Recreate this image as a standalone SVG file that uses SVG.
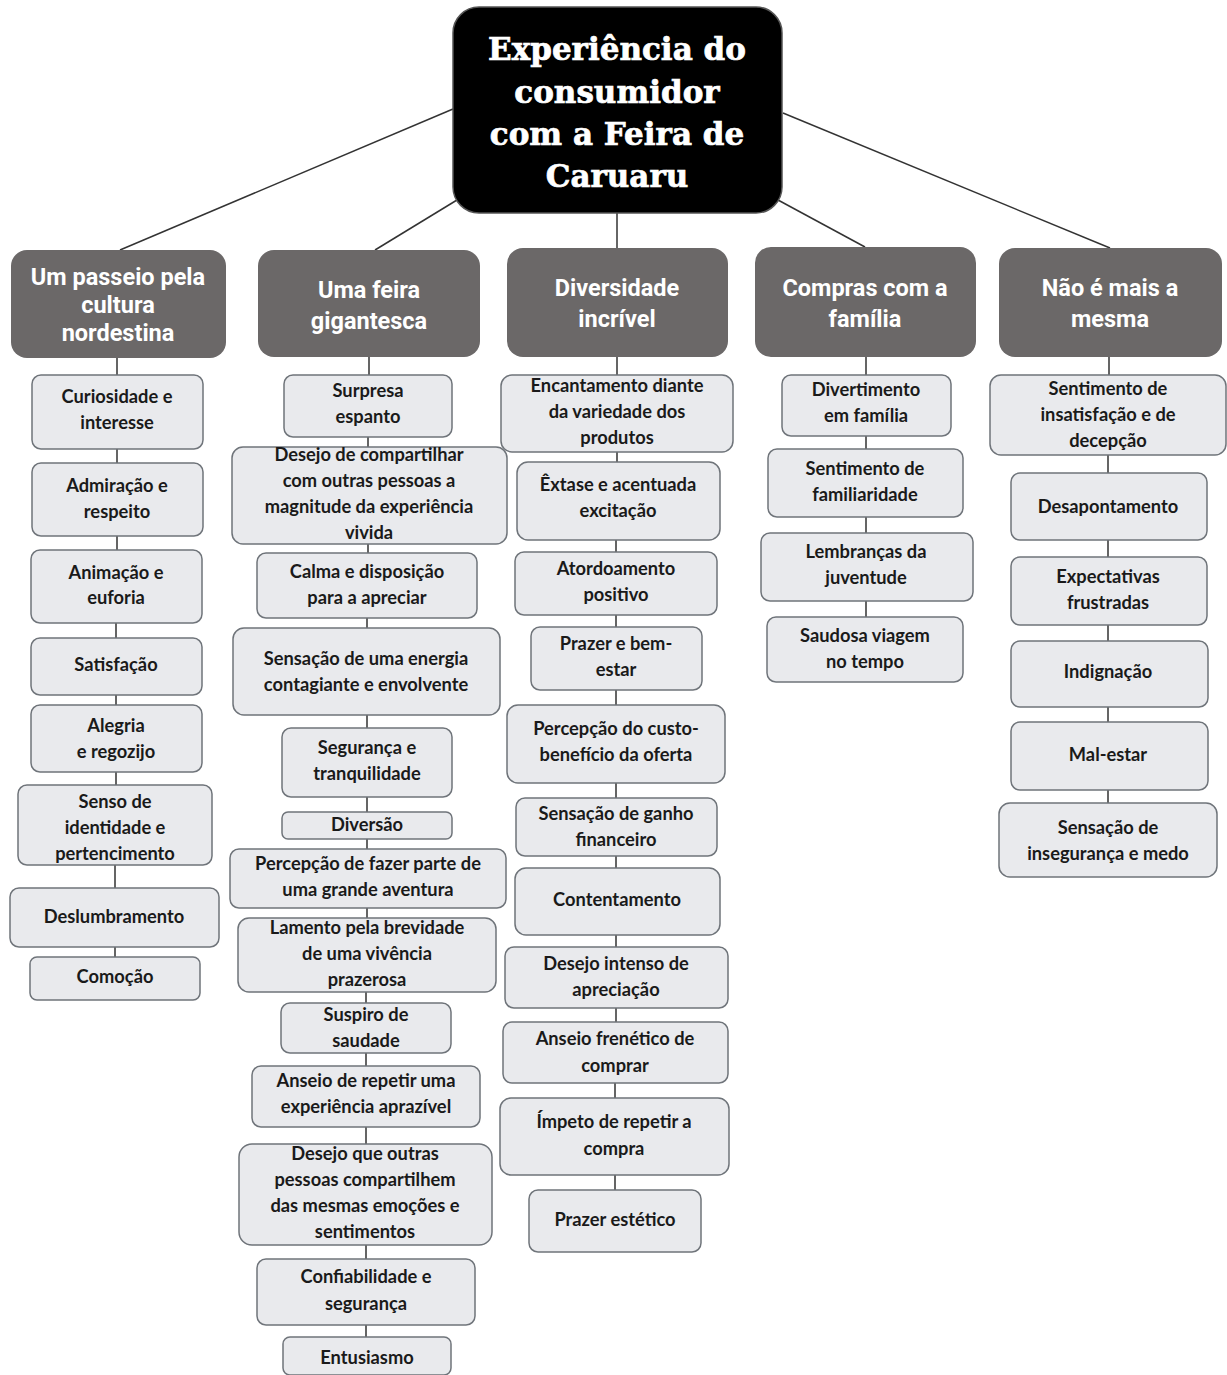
<svg xmlns="http://www.w3.org/2000/svg" width="1227" height="1375" viewBox="0 0 1227 1375">
<style>
.bg{fill:#ffffff}
.root rect{fill:#000000;stroke:#555555;stroke-width:1.5}
.root text{font-family:"DejaVu Serif",serif;font-weight:bold;font-size:31px;fill:#ffffff;stroke:#ffffff;stroke-width:0.7;text-anchor:middle}
.cat rect{fill:#6b6868;stroke:none}
.cat text{font-family:Roboto,"Liberation Sans",sans-serif;font-weight:bold;font-size:23.5px;fill:#ffffff;text-anchor:middle}
.leaf rect{fill:#e9eaed;stroke:#6f747a;stroke-width:1.5}
.leaf text{font-family:Lato,"Liberation Sans",sans-serif;font-weight:bold;font-size:18.3px;fill:#1a1a1a;text-anchor:middle}
.conn path{fill:none;stroke:#333333;stroke-width:1.5}
</style>
<rect class="bg" x="0" y="0" width="1227" height="1375"/>
<g id="connectors" class="conn">
<path d="M453,109 L120,250"/>
<path d="M457,200 L375,250"/>
<path d="M617,213 L617,248"/>
<path d="M778,200 L865,247"/>
<path d="M783,113 L1110,248"/>
<path d="M117,358 V375 M117,449 V463 M117,536 V550 M116,623 V638 M116,695 V705 M116,772 V785 M115,865 V888 M115,947 V957"/>
<path d="M369,357 V375 M368,437 V447 M368,544 V553 M367,618 V628 M367,715 V728 M367,797 V812 M367,839 V849 M367,908 V918 M366,992 V1003 M366,1053 V1066 M366,1127 V1144 M366,1245 V1259 M366,1325 V1337"/>
<path d="M617,357 V375 M617,452 V462 M616,540 V552 M616,615 V627 M616,690 V705 M616,783 V798 M616,856 V868 M616,935 V947 M616,1008 V1022 M615,1083 V1098 M615,1175 V1190"/>
<path d="M866,357 V375 M866,436 V449 M866,517 V533 M866,601 V617"/>
<path d="M1109,357 V375 M1108,455 V473 M1108,540 V557 M1108,625 V641 M1108,707 V722 M1108,790 V803"/>
</g>
<g id="root" class="root">
<rect x="453" y="7" width="329" height="206" rx="26"/>
<text x="617" y="60">Experiência do</text>
<text x="617" y="103">consumidor</text>
<text x="617" y="145">com a Feira de</text>
<text x="617" y="187">Caruaru</text>
</g>
<g id="cat1" class="cat"><rect x="11" y="250" width="215" height="108" rx="16"/><text x="118" y="285">Um passeio pela</text><text x="118" y="313">cultura</text><text x="118" y="341">nordestina</text></g>
<g id="cat2" class="cat"><rect x="258" y="250" width="222" height="107" rx="16"/><text x="369" y="298">Uma feira</text><text x="369" y="329">gigantesca</text></g>
<g id="cat3" class="cat"><rect x="507" y="248" width="221" height="109" rx="16"/><text x="617" y="296">Diversidade</text><text x="617" y="327">incrível</text></g>
<g id="cat4" class="cat"><rect x="755" y="247" width="221" height="110" rx="16"/><text x="865" y="296">Compras com a</text><text x="865" y="327">família</text></g>
<g id="cat5" class="cat"><rect x="999" y="248" width="223" height="109" rx="16"/><text x="1110" y="296">Não é mais a</text><text x="1110" y="327">mesma</text></g>

<g id="a1" class="leaf"><rect x="32" y="375" width="171" height="74" rx="9"/><text x="117" y="403">Curiosidade e</text><text x="117" y="429">interesse</text></g>
<g id="a2" class="leaf"><rect x="32" y="463" width="171" height="73" rx="9"/><text x="117" y="492">Admiração e</text><text x="117" y="518">respeito</text></g>
<g id="a3" class="leaf"><rect x="31" y="550" width="171" height="73" rx="9"/><text x="116" y="579">Animação e</text><text x="116" y="604">euforia</text></g>
<g id="a4" class="leaf"><rect x="31" y="638" width="171" height="57" rx="9"/><text x="116" y="671">Satisfação</text></g>
<g id="a5" class="leaf"><rect x="31" y="705" width="171" height="67" rx="9"/><text x="116" y="732">Alegria</text><text x="116" y="758">e regozijo</text></g>
<g id="a6" class="leaf"><rect x="18" y="785" width="194" height="80" rx="9"/><text x="115" y="808">Senso de</text><text x="115" y="834">identidade e</text><text x="115" y="860">pertencimento</text></g>
<g id="a7" class="leaf"><rect x="10" y="888" width="209" height="59" rx="9"/><text x="114" y="923">Deslumbramento</text></g>
<g id="a8" class="leaf"><rect x="30" y="957" width="170" height="43" rx="7"/><text x="115" y="983">Comoção</text></g>

<g id="b1" class="leaf"><rect x="284" y="375" width="168" height="62" rx="9"/><text x="368" y="397">Surpresa</text><text x="368" y="423">espanto</text></g>
<g id="b2" class="leaf"><rect x="232" y="447" width="275" height="97" rx="11"/><text x="369" y="461">Desejo de compartilhar</text><text x="369" y="487">com outras pessoas a</text><text x="369" y="513">magnitude da experiência</text><text x="369" y="539">vivida</text></g>
<g id="b3" class="leaf"><rect x="257" y="553" width="220" height="65" rx="9"/><text x="367" y="578">Calma e disposição</text><text x="367" y="604">para a apreciar</text></g>
<g id="b4" class="leaf"><rect x="233" y="628" width="267" height="87" rx="11"/><text x="366" y="665">Sensação de uma energia</text><text x="366" y="691">contagiante e envolvente</text></g>
<g id="b5" class="leaf"><rect x="282" y="728" width="170" height="69" rx="9"/><text x="367" y="754">Segurança e</text><text x="367" y="780">tranquilidade</text></g>
<g id="b6" class="leaf"><rect x="282" y="812" width="170" height="27" rx="6"/><text x="367" y="831">Diversão</text></g>
<g id="b7" class="leaf"><rect x="230" y="849" width="276" height="59" rx="9"/><text x="368" y="870">Percepção de fazer parte de</text><text x="368" y="896">uma grande aventura</text></g>
<g id="b8" class="leaf"><rect x="238" y="918" width="258" height="74" rx="11"/><text x="367" y="934">Lamento pela brevidade</text><text x="367" y="960">de uma vivência</text><text x="367" y="986">prazerosa</text></g>
<g id="b9" class="leaf"><rect x="281" y="1003" width="170" height="50" rx="9"/><text x="366" y="1021">Suspiro de</text><text x="366" y="1047">saudade</text></g>
<g id="b10" class="leaf"><rect x="252" y="1066" width="228" height="61" rx="9"/><text x="366" y="1087">Anseio de repetir uma</text><text x="366" y="1113">experiência aprazível</text></g>
<g id="b11" class="leaf"><rect x="239" y="1144" width="253" height="101" rx="13"/><text x="365" y="1160">Desejo que outras</text><text x="365" y="1186">pessoas compartilhem</text><text x="365" y="1212">das mesmas emoções e</text><text x="365" y="1238">sentimentos</text></g>
<g id="b12" class="leaf"><rect x="257" y="1259" width="218" height="66" rx="9"/><text x="366" y="1283">Confiabilidade e</text><text x="366" y="1310">segurança</text></g>
<g id="b13" class="leaf"><rect x="283" y="1337" width="168" height="38" rx="7"/><text x="367" y="1364">Entusiasmo</text></g>

<g id="c1" class="leaf"><rect x="501" y="375" width="232" height="77" rx="11"/><text x="617" y="392">Encantamento diante</text><text x="617" y="418">da variedade dos</text><text x="617" y="444">produtos</text></g>
<g id="c2" class="leaf"><rect x="517" y="462" width="203" height="78" rx="11"/><text x="618" y="491">Êxtase e acentuada</text><text x="618" y="517">excitação</text></g>
<g id="c3" class="leaf"><rect x="515" y="552" width="202" height="63" rx="9"/><text x="616" y="575">Atordoamento</text><text x="616" y="601">positivo</text></g>
<g id="c4" class="leaf"><rect x="531" y="627" width="171" height="63" rx="9"/><text x="616" y="650">Prazer e bem-</text><text x="616" y="676">estar</text></g>
<g id="c5" class="leaf"><rect x="507" y="705" width="218" height="78" rx="11"/><text x="616" y="735">Percepção do custo-</text><text x="616" y="761">benefício da oferta</text></g>
<g id="c6" class="leaf"><rect x="516" y="798" width="201" height="58" rx="9"/><text x="616" y="820">Sensação de ganho</text><text x="616" y="846">financeiro</text></g>
<g id="c7" class="leaf"><rect x="515" y="868" width="205" height="67" rx="11"/><text x="617" y="906">Contentamento</text></g>
<g id="c8" class="leaf"><rect x="505" y="947" width="223" height="61" rx="9"/><text x="616" y="970">Desejo intenso de</text><text x="616" y="996">apreciação</text></g>
<g id="c9" class="leaf"><rect x="503" y="1022" width="225" height="61" rx="9"/><text x="615" y="1045">Anseio frenético de</text><text x="615" y="1072">comprar</text></g>
<g id="c10" class="leaf"><rect x="500" y="1098" width="229" height="77" rx="11"/><text x="614" y="1128">Ímpeto de repetir a</text><text x="614" y="1155">compra</text></g>
<g id="c11" class="leaf"><rect x="529" y="1190" width="172" height="62" rx="9"/><text x="615" y="1226">Prazer estético</text></g>

<g id="d1" class="leaf"><rect x="782" y="375" width="169" height="61" rx="9"/><text x="866" y="396">Divertimento</text><text x="866" y="422">em família</text></g>
<g id="d2" class="leaf"><rect x="768" y="449" width="195" height="68" rx="9"/><text x="865" y="475">Sentimento de</text><text x="865" y="501">familiaridade</text></g>
<g id="d3" class="leaf"><rect x="761" y="533" width="212" height="68" rx="9"/><text x="866" y="558">Lembranças da</text><text x="866" y="584">juventude</text></g>
<g id="d4" class="leaf"><rect x="767" y="617" width="196" height="65" rx="9"/><text x="865" y="642">Saudosa viagem</text><text x="865" y="668">no tempo</text></g>

<g id="e1" class="leaf"><rect x="990" y="375" width="236" height="80" rx="11"/><text x="1108" y="395">Sentimento de</text><text x="1108" y="421">insatisfação e de</text><text x="1108" y="447">decepção</text></g>
<g id="e2" class="leaf"><rect x="1011" y="473" width="196" height="67" rx="9"/><text x="1108" y="513">Desapontamento</text></g>
<g id="e3" class="leaf"><rect x="1011" y="557" width="196" height="68" rx="9"/><text x="1108" y="583">Expectativas</text><text x="1108" y="609">frustradas</text></g>
<g id="e4" class="leaf"><rect x="1011" y="641" width="197" height="66" rx="9"/><text x="1108" y="678">Indignação</text></g>
<g id="e5" class="leaf"><rect x="1011" y="722" width="197" height="68" rx="9"/><text x="1108" y="761">Mal-estar</text></g>
<g id="e6" class="leaf"><rect x="999" y="803" width="218" height="74" rx="11"/><text x="1108" y="834">Sensação de</text><text x="1108" y="860">insegurança e medo</text></g>
</svg>
